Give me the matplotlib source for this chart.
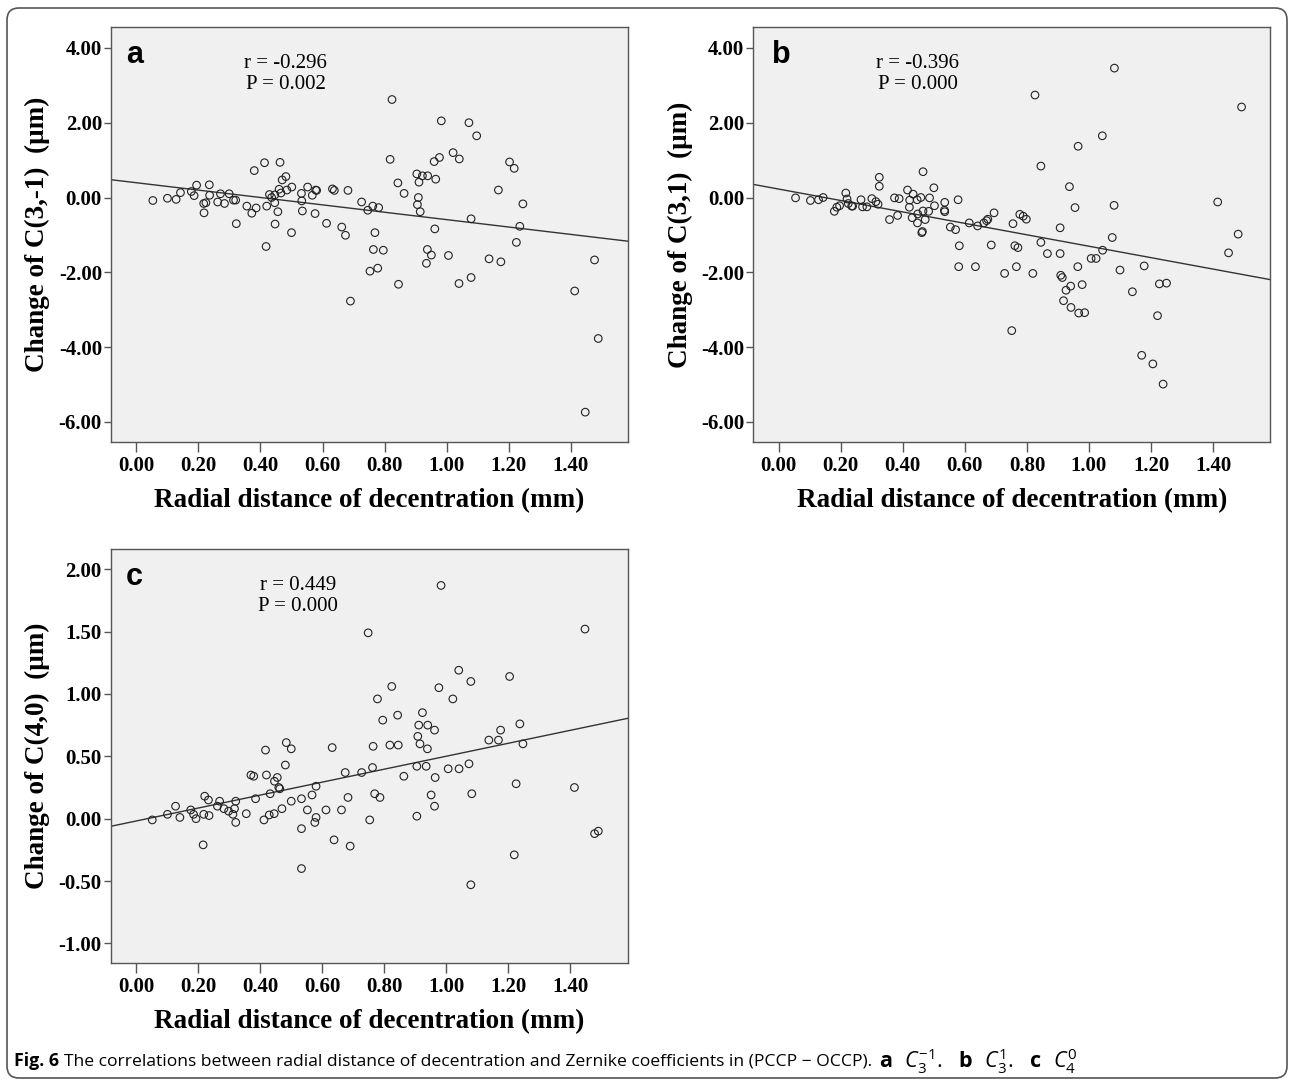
import numpy as np
import matplotlib
matplotlib.use("Agg")
import matplotlib.pyplot as plt
from matplotlib.patches import FancyBboxPatch
from matplotlib.transforms import Affine2D

# panel a : change of C(3,-1)
xa = [0.053, 0.100, 0.128, 0.142, 0.177, 0.186, 0.194, 0.217, 0.224, 0.218, 0.235, 0.236, 0.262, 0.271, 0.284,
      0.299, 0.313, 0.320, 0.322, 0.356, 0.372, 0.380, 0.386, 0.413, 0.418, 0.420, 0.429, 0.436, 0.446, 0.447,
      0.446, 0.456, 0.460, 0.463, 0.466, 0.470, 0.482, 0.485, 0.500, 0.501, 0.532, 0.533, 0.535, 0.552, 0.567,
      0.576, 0.578, 0.581, 0.613, 0.632, 0.638, 0.662, 0.674, 0.682, 0.690, 0.726, 0.746, 0.762, 0.753, 0.764,
      0.769, 0.781, 0.778,
      0.796, 0.824, 0.818, 0.843, 0.863, 0.845, 0.904, 0.911, 0.922, 0.939, 0.965, 0.909, 0.906, 0.915, 0.962,
      0.960, 0.977, 0.983, 1.021, 1.041, 0.938, 0.951, 0.935, 1.006, 1.040, 1.079, 1.072, 1.097, 1.079, 1.137,
      1.175, 1.167, 1.203, 1.218, 1.246, 1.236, 1.225, 1.413, 1.477, 1.489, 1.447]
ya = [-0.08, -0.02, -0.05, 0.13, 0.16, 0.05, 0.33, -0.16, -0.14, -0.41, 0.34, 0.06, -0.12, 0.10, -0.16,
      0.10, -0.07, -0.07, -0.70, -0.23, -0.42, 0.72, -0.28, 0.93, -1.31, -0.23, 0.08, 0.00, -0.14, -0.71,
      0.07, -0.38, 0.22, 0.94, 0.12, 0.47, 0.56, 0.20, -0.94, 0.28, 0.11, -0.09, -0.36, 0.28, 0.06,
      -0.43, 0.20, 0.19, -0.69, 0.23, 0.19, -0.79, -1.01, 0.19, -2.77, -0.12, -0.34, -0.23, -1.97, -1.39,
      -0.94, -0.27, -1.89,
      -1.41, 2.62, 1.02, 0.39, 0.11, -2.32, 0.63, 0.41, 0.58, 0.58, 0.49, 0.00, -0.19, -0.38, -0.84,
      0.96, 1.07, 2.05, 1.20, 1.03, -1.39, -1.54, -1.76, -1.55, -2.30, -2.14, 2.00, 1.65, -0.57, -1.64,
      -1.72, 0.20, 0.95, 0.78, -0.17, -0.77, -1.20, -2.50, -1.67, -3.77, -5.74]

# panel b : change of C(3,1)
xb = [0.054, 0.102, 0.128, 0.143, 0.179, 0.187, 0.196, 0.216, 0.220, 0.224, 0.235, 0.238, 0.265, 0.270, 0.284,
      0.300, 0.313, 0.320, 0.324, 0.324, 0.357, 0.373, 0.383, 0.388, 0.415, 0.421, 0.422, 0.430, 0.433, 0.446,
      0.447, 0.448, 0.458, 0.461, 0.463, 0.465, 0.465, 0.472, 0.483, 0.486, 0.500, 0.502, 0.534, 0.535, 0.535,
      0.553, 0.570, 0.578, 0.582, 0.580, 0.614, 0.634, 0.641, 0.661, 0.670, 0.674, 0.685, 0.694, 0.728, 0.751,
      0.755, 0.761, 0.766, 0.771, 0.777,
      0.788, 0.798, 0.826, 0.819, 0.845, 0.845, 0.866, 0.907, 0.907, 0.909, 0.914, 0.926, 0.941, 0.918, 0.942,
      0.967, 0.986, 0.937, 0.955, 0.965, 0.964, 0.978, 1.007, 1.023, 1.044, 1.043, 1.082, 1.081, 1.075, 1.100,
      1.140, 1.178, 1.170, 1.206, 1.221, 1.227, 1.250, 1.239, 1.415, 1.450, 1.481, 1.492]
yb = [-0.01, -0.08, -0.06, 0.00, -0.37, -0.26, -0.22, 0.12, -0.04, -0.16, -0.23, -0.23, -0.06, -0.25, -0.25,
      -0.03, -0.11, -0.18, 0.54, 0.30, -0.59, -0.01, -0.48, -0.03, 0.20, -0.26, -0.07, -0.54, 0.09, -0.06,
      -0.68, -0.44, 0.00, -0.94, -0.91, 0.69, -0.36, -0.59, -0.37, -0.01, 0.26, -0.22, -0.34, -0.13, -0.38,
      -0.79, -0.86, -0.06, -1.29, -1.85, -0.68, -1.85, -0.76, -0.68, -0.62, -0.58, -1.27, -0.41, -2.03, -3.56,
      -0.70, -1.29, -1.85, -1.34, -0.45,
      -0.50, -0.58, 2.74, -2.03, 0.84, -1.20, -1.50, -0.81, -1.50, -2.08, -2.14, -2.48, -2.37, -2.76, -2.94,
      -3.09, -3.08, 0.29, -0.27, 1.37, -1.85, -2.33, -1.63, -1.63, -1.41, 1.65, 3.46, -0.21, -1.07, -1.94,
      -2.52, -1.83, -4.22, -4.45, -3.16, -2.31, -2.29, -4.99, -0.12, -1.48, -0.98, 2.42]

# panel c : change of C(4,0)
xc = [0.052, 0.101, 0.127, 0.141, 0.176, 0.185, 0.193, 0.216, 0.218, 0.221, 0.233, 0.235, 0.262, 0.269, 0.283,
      0.298, 0.312, 0.317, 0.321, 0.321, 0.355, 0.370, 0.379, 0.385, 0.412, 0.417, 0.420, 0.429, 0.432, 0.445,
      0.446, 0.455, 0.460, 0.463, 0.470, 0.481, 0.484, 0.500, 0.500, 0.533, 0.533, 0.533, 0.552, 0.567, 0.576,
      0.580, 0.580, 0.612, 0.632, 0.638, 0.662, 0.674, 0.683, 0.690, 0.727, 0.748, 0.753, 0.762, 0.764, 0.769,
      0.778, 0.786,
      0.983, 1.040, 1.079, 1.204, 1.447, 0.824, 0.976, 1.021, 0.795, 0.843, 0.923, 0.911, 0.940, 0.962, 0.908,
      0.915, 0.939, 0.818, 0.845, 1.137, 1.168, 1.175, 1.237, 1.247, 0.905, 0.935, 1.006, 1.041, 1.073, 0.863,
      0.964, 1.225, 1.413, 0.951, 1.082, 0.962, 0.905, 1.219, 1.079, 1.478, 1.490]
yc = [-0.01, 0.035, 0.10, 0.01, 0.07, 0.035, 0.00, -0.21, 0.035, 0.18, 0.15, 0.025, 0.10, 0.14, 0.08,
      0.06, 0.035, 0.08, 0.14, -0.03, 0.04, 0.35, 0.34, 0.16, -0.01, 0.55, 0.35, 0.03, 0.20, 0.04,
      0.30, 0.33, 0.25, 0.24, 0.08, 0.43, 0.61, 0.56, 0.14, 0.16, -0.08, -0.40, 0.07, 0.19, -0.03,
      0.01, 0.26, 0.07, 0.57, -0.17, 0.07, 0.37, 0.17, -0.22, 0.37, 1.49, -0.01, 0.41, 0.58, 0.20,
      0.96, 0.17,
      1.87, 1.19, 1.10, 1.14, 1.52, 1.06, 1.05, 0.96, 0.79, 0.83, 0.85, 0.75, 0.75, 0.71, 0.66,
      0.60, 0.56, 0.59, 0.59, 0.63, 0.63, 0.71, 0.76, 0.60, 0.42, 0.42, 0.40, 0.40, 0.44, 0.34,
      0.33, 0.28, 0.25, 0.19, 0.20, 0.10, 0.02, -0.29, -0.53, -0.12, -0.10]

x_ticks = [0.0, 0.2, 0.4, 0.6, 0.8, 1.0, 1.2, 1.4]
stats = {'a': ('r = -0.296', 'P = 0.002'), 'b': ('r = -0.396', 'P = 0.000'), 'c': ('r = 0.449', 'P = 0.000')}

plt.rcParams['font.family'] = ['Liberation Serif', 'DejaVu Serif']
plt.rcParams['font.weight'] = 'bold'
plt.rcParams['axes.unicode_minus'] = False
plt.rcParams['mathtext.fontset'] = 'custom'
plt.rcParams['mathtext.rm'] = 'Open Sans:weight=normal'
plt.rcParams['mathtext.it'] = 'Open Sans:style=italic:weight=normal'
plt.rcParams['mathtext.bf'] = 'Open Sans:weight=bold'

W, H = 1292, 1081
fig = plt.figure(figsize=(W / 100, H / 100), dpi=100)


def panel(rect, x, y, ylim, yticks, ylabel, letter, txt_x, letter_x):
    ax = fig.add_axes(rect)
    ax.set_facecolor('#f0f0f0')
    ax.scatter(x, y, s=30, facecolors='none', edgecolors='#222222', linewidths=0.8, zorder=3)
    m, b = np.polyfit(x, y, 1)
    ax.axline((0, b), slope=m, color='#333333', lw=1.0, zorder=2)
    ax.set_xlim(-0.082, 1.585)
    ax.set_ylim(*ylim)
    ax.set_xticks(x_ticks)
    ax.set_yticks(yticks)
    ax.xaxis.set_major_formatter('{x:.2f}')
    ax.yaxis.set_major_formatter('{x:.2f}')
    for s in ax.spines.values():
        s.set_color('#555555')
        s.set_linewidth(1.0)
    ax.tick_params(axis='x', length=7, width=1, color='#555555', labelsize=15, pad=3)
    ax.tick_params(axis='y', length=5, width=1, color='#555555', labelsize=15, pad=1.5)
    ax.set_xlabel('Radial distance of decentration (mm)', fontsize=19.5, fontweight='bold', labelpad=9)
    ax.set_ylabel(ylabel, fontsize=19.5, fontweight='bold', labelpad=6)
    ax.text(letter_x, 0.913, letter, transform=ax.transAxes, fontsize=22, weight='bold',
            family='Liberation Sans', ha='left', va='baseline')
    r_txt, p_txt = stats[letter]
    ax.text(txt_x, 0.902, r_txt, transform=ax.transAxes, fontsize=15, weight='normal',
            ha='center', va='baseline')
    ax.text(txt_x, 0.851, p_txt, transform=ax.transAxes, fontsize=15, weight='normal',
            ha='center', va='baseline')
    return ax


big_ticks = [-6, -4, -2, 0, 2, 4]
panel([0.0859, 0.5914, 0.4002, 0.3833], xa, ya, (-6.53, 4.55), big_ticks,
      'Change of C(3,-1)  (\u03bcm)', 'a', 0.338, 0.029)
panel([0.5831, 0.5914, 0.4002, 0.3833], xb, yb, (-6.53, 4.55), big_ticks,
      'Change of C(3,1)  (\u03bcm)', 'b', 0.318, 0.036)
panel([0.0857, 0.1094, 0.4002, 0.3825], xc, yc, (-1.155, 2.16), [-1.0, -0.5, 0.0, 0.5, 1.0, 1.5, 2.0],
      'Change of C(4,0)  (\u03bcm)', 'c', 0.362, 0.029)

# caption, built from three pieces placed one after another
cap_y = 1 - 1061 / H
renderer = fig.canvas.get_renderer()
t1 = fig.text(14 / W, cap_y, 'Fig. 6', family='Open Sans', weight='bold', fontsize=12.8, va='center')
bb = t1.get_window_extent(renderer)
t2 = fig.text((bb.x1 + 5) / W, cap_y,
              'The correlations between radial distance of decentration and Zernike coefficients in (PCCP \u2212 OCCP).',
              family=['Open Sans', 'DejaVu Sans'], weight='normal', fontsize=12.6, va='center')
bb = t2.get_window_extent(renderer)
fig.text((bb.x1 + 7) / W, cap_y,
         r'$\mathbf{a}\ \ C_{3}^{-1}.\ \ \mathbf{b}\ \ C_{3}^{1}.\ \ \mathbf{c}\ \ C_{4}^{0}$',
         weight='normal', fontsize=15.5, va='center')

# rounded frame around the whole figure
tr = Affine2D().scale(1 / W, 1 / H) + fig.transFigure
frame = FancyBboxPatch((7, 3), 1280, 1070, boxstyle='round,pad=0,rounding_size=12',
                       transform=tr, fill=False, ec='#555555', lw=1.2)
fig.add_artist(frame)

fig.savefig('out.png', dpi=100)
